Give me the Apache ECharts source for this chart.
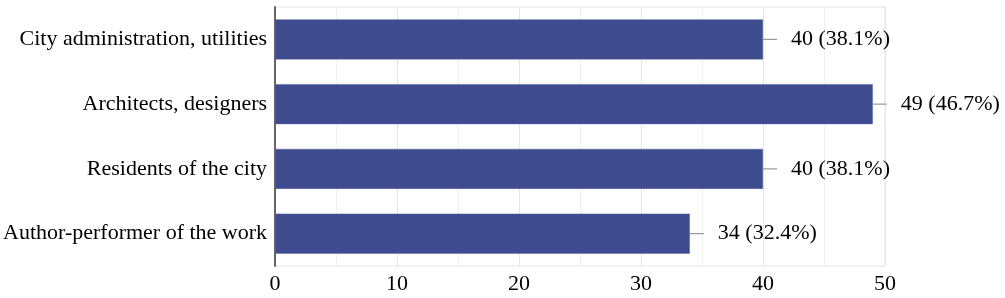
<!DOCTYPE html>
<html><head><meta charset="utf-8">
<script src="https://cdn.jsdelivr.net/npm/echarts@6/dist/echarts.min.js"></script>
<style>html,body{margin:0;padding:0;background:#fff}#c{width:1005px;height:298px}</style>
</head><body><div id="c"></div>
<script>
const categories = ["City administration, utilities", "Architects, designers", "Residents of the city", "Author-performer of the work"];
const counts = [40, 49, 40, 34];
const percents = ["38.1", "46.7", "38.1", "32.4"];
const xTicks = [0, 10, 20, 30, 40, 50];

const font = "'Liberation Serif', 'Times New Roman', serif";
const chart = echarts.init(document.getElementById('c'));
chart.setOption({
  animation: false,
  grid: {left: 274, right: 120, top: 7, bottom: 32, show: true, borderColor: '#e4e4e4', borderWidth: 1, backgroundColor: 'transparent'},
  xAxis: {
    type: 'value', min: xTicks[0], max: xTicks[xTicks.length-1], interval: 10,
    axisLine: {show: false}, axisTick: {show: false},
    axisLabel: {fontFamily: font, fontSize: 22, color: '#000', margin: 7},
    splitLine: {show: true, lineStyle: {color: '#e6e6e6', width: 1}},
    minorTick: {show: false, splitNumber: 2},
    minorSplitLine: {show: true, lineStyle: {color: '#f1f1f1', width: 1}}
  },
  yAxis: {
    type: 'category', data: categories, inverse: true,
    axisLine: {show: true, lineStyle: {color: '#666', width: 2}},
    axisTick: {show: false},
    axisLabel: {fontFamily: font, fontSize: 22, color: '#000', margin: 8},
    splitLine: {show: false}
  },
  series: [
    {
      type: 'bar', data: counts, barWidth: 40,
      itemStyle: {color: '#3e4c8f', borderColor: '#5a67a3', borderWidth: 0.5}
    },
    {
      type: 'custom', clip: false, z: 5,
      data: counts.map((v, i) => [v, i]),
      encode: {x: 0, y: 1},
      renderItem: function (params, api) {
        const v = api.value(0), i = api.value(1);
        const p = api.coord([v, i]);
        return {
          type: 'group',
          children: [
            {type: 'line', shape: {x1: p[0], y1: p[1], x2: p[0] + 14, y2: p[1]}, style: {stroke: '#999', lineWidth: 1.2}},
            {type: 'text', x: p[0] + 28, y: p[1], style: {text: counts[i] + ' (' + percents[i] + '%)', font: '22px ' + font, fill: '#000', textAlign: 'left', textVerticalAlign: 'middle'}}
          ]
        };
      }
    }
  ]
});
</script></body></html>
